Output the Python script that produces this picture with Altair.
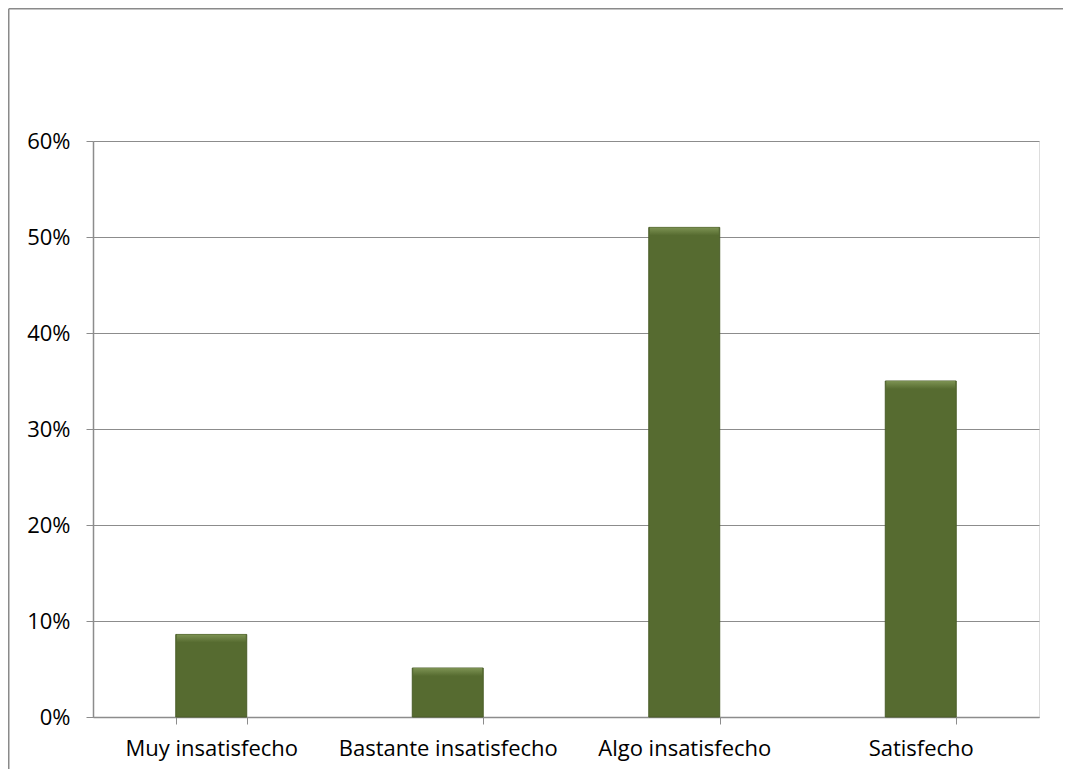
import altair as alt
import pandas as pd

categories = ["Muy insatisfecho", "Bastante insatisfecho", "Algo insatisfecho", "Satisfecho"]
values = [0.086, 0.051, 0.510, 0.350]
y_ticks = [0, 0.1, 0.2, 0.3, 0.4, 0.5, 0.6]

df = pd.DataFrame({"cat": categories, "val": values})

W, H = 946, 576
PL, PT, PR, PB = 85, 133, 24, 52
FONT = "Open Sans"
FS = 22
GRAY = "#8c8c8c"

xenc = alt.X("cat:N", sort=categories, title=None,
             scale=alt.Scale(paddingInner=0.7, paddingOuter=0.35),
             axis=alt.Axis(labelAngle=0, tickBand="extent", tickSize=7,
                           tickColor=GRAY, domainColor=GRAY, domainWidth=1.5,
                           labelFont=FONT, labelFontSize=FS, labelColor="#000",
                           labelPadding=14, labelLimit=400, grid=False))
yenc = alt.Y("val:Q", title=None,
             scale=alt.Scale(domain=[0, 0.6], nice=False),
             axis=alt.Axis(values=y_ticks, format=".0%", tickSize=7,
                           tickColor=GRAY, domainColor=GRAY, domainWidth=1.5,
                           gridColor=GRAY, gridWidth=1,
                           labelFont=FONT, labelFontSize=FS, labelColor="#000",
                           labelPadding=16))

base = alt.Chart(df)

bars = base.mark_bar(
    color="#566B30", stroke="#4a5d28", strokeWidth=1
).encode(x=xenc, y=yenc)

highlight = base.mark_tick(
    thickness=8, size=69, yOffset=4,
    color=alt.Gradient(gradient="linear",
                       stops=[alt.GradientStop(color="#8ea462", offset=0),
                              alt.GradientStop(color="#566B30", offset=1)],
                       x1=0, x2=0, y1=0, y2=1)
).encode(x=alt.X("cat:N", sort=categories), y=alt.Y("val:Q"))

frame = pd.DataFrame({"a": [0]})
top_line = alt.Chart(frame).mark_rule(color="#8a8a8a", strokeWidth=1.5).encode(
    x=alt.value(-PL + 0.75), x2=alt.value(W + PR), y=alt.value(-PT + 0.75))
left_line = alt.Chart(frame).mark_rule(color="#8a8a8a", strokeWidth=1.5).encode(
    x=alt.value(-PL + 0.75), y=alt.value(-PT + 0.75), y2=alt.value(H + PB))

chart = alt.layer(top_line, left_line, bars, highlight).properties(
    width=W, height=H,
    autosize=alt.AutoSizeParams(type="none"),
    padding={"left": PL, "top": PT, "right": PR, "bottom": PB},
).configure_view(stroke=None).configure(background="transparent")

chart.save("out.html", embed_options={"renderer": "svg", "actions": False})
